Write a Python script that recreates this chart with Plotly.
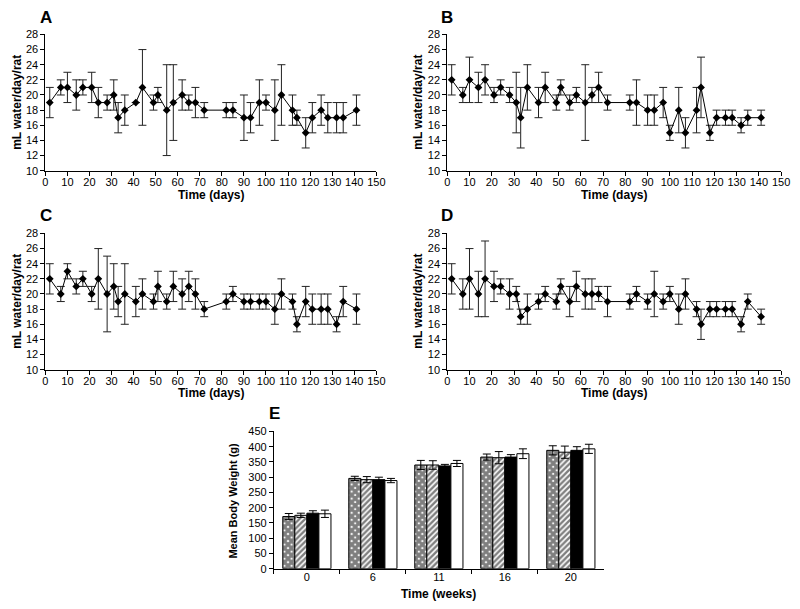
import plotly.graph_objects as go

# ---------------- data ----------------
days = [2, 7, 10, 14, 17, 21, 24, 28, 31, 33, 36, 41, 44, 49, 51, 55, 58, 62, 65, 68,
        72, 82, 85, 90, 93, 97, 100, 104, 107, 112, 114, 118, 121, 125, 128, 132, 135, 141]

A_mean = [19, 21, 21, 20, 21, 21, 19, 19, 20, 17, 18, 19, 21, 19, 20, 18, 19, 20, 19, 19,
          18, 18, 18, 17, 17, 19, 19, 18, 20, 18, 17, 15, 17, 18, 17, 17, 17, 18]
A_lo = [17, 20, 19, 18, 20, 19, 17, 18, 18, 15, 16, 19, 16, 18, 19, 12, 14, 18, 18, 17,
        17, 17, 17, 14, 15, 16, 18, 14, 16, 16, 16, 13, 15, 16, 15, 15, 15, 16]
A_hi = [21, 22, 23, 22, 22, 23, 21, 20, 22, 19, 20, 19, 26, 20, 21, 24, 24, 22, 20, 21,
        19, 19, 19, 20, 19, 22, 20, 22, 24, 20, 18, 17, 19, 20, 19, 19, 19, 20]

B_mean = [22, 20, 22, 21, 22, 20, 21, 20, 19, 17, 21, 19, 21, 19, 21, 19, 20, 19, 20, 21,
          19, 19, 19, 18, 18, 19, 15, 18, 15, 18, 21, 15, 17, 17, 17, 16, 17, 17]
B_lo = [20, 19, 19, 19, 20, 19, 20, 19, 15, 13, 18, 17, 19, 18, 20, 18, 19, 14, 19, 19,
        18, 18, 16, 16, 16, 17, 14, 15, 13, 15, 17, 14, 16, 16, 16, 15, 16, 16]
B_hi = [24, 21, 25, 23, 24, 21, 22, 21, 23, 21, 24, 21, 23, 20, 22, 20, 21, 24, 21, 23,
        20, 20, 22, 20, 20, 21, 16, 21, 17, 21, 25, 16, 18, 18, 18, 17, 18, 18]

C_mean = [22, 20, 23, 21, 22, 20, 22, 20, 21, 19, 20, 19, 20, 19, 21, 19, 21, 20, 21, 20,
          18, 19, 20, 19, 19, 19, 19, 18, 20, 19, 16, 19, 18, 18, 18, 16, 19, 18]
C_lo = [20, 19, 22, 20, 21, 19, 18, 15, 18, 17, 16, 17, 18, 18, 19, 18, 19, 18, 19, 18,
        17, 18, 19, 18, 18, 18, 18, 16, 18, 18, 15, 17, 16, 16, 16, 15, 17, 16]
C_hi = [24, 21, 24, 22, 23, 21, 26, 25, 24, 21, 24, 21, 22, 20, 23, 20, 23, 22, 23, 22,
        19, 20, 21, 20, 20, 20, 20, 20, 22, 20, 17, 21, 20, 20, 20, 17, 21, 20]

D_mean = [22, 20, 22, 20, 22, 21, 21, 20, 20, 17, 18, 19, 20, 19, 21, 19, 21, 20, 20, 20,
          19, 19, 20, 19, 20, 19, 20, 18, 20, 18, 16, 18, 18, 18, 18, 16, 19, 17]
D_lo = [20, 18, 18, 17, 17, 19, 20, 18, 19, 16, 16, 18, 19, 18, 20, 17, 19, 18, 18, 19,
        17, 18, 19, 18, 17, 18, 19, 16, 18, 17, 14, 17, 17, 17, 17, 15, 18, 16]
D_hi = [24, 22, 26, 23, 27, 23, 22, 22, 21, 18, 20, 20, 21, 20, 22, 21, 23, 22, 22, 21,
        21, 20, 21, 20, 23, 20, 21, 20, 22, 19, 18, 19, 19, 19, 19, 17, 20, 18]

weeks = ["0", "6", "11", "16", "20"]
E_cross = [171, 296, 340, 366, 388]
E_cross_err = [10, 7, 15, 10, 15]
E_hatch = [175, 292, 340, 364, 382]
E_hatch_err = [7, 10, 14, 20, 20]
E_black = [182, 292, 337, 366, 388]
E_black_err = [8, 8, 5, 8, 12]
E_white = [180, 289, 345, 377, 393]
E_white_err = [12, 7, 10, 16, 15]

# ---------------- layout helpers ----------------
W, H = 800, 609
def px(x):
    return x / W
def py(y):
    return 1 - y / H

FONT = "Liberation Sans, Arial, sans-serif"

fig = go.Figure()

panels = [
    ("A", A_mean, A_lo, A_hi, "x", "y"),
    ("B", B_mean, B_lo, B_hi, "x2", "y2"),
    ("C", C_mean, C_lo, C_hi, "x3", "y3"),
    ("D", D_mean, D_lo, D_hi, "x4", "y4"),
]
for name, m, lo, hi, xa, ya in panels:
    fig.add_trace(go.Scatter(
        x=days, y=m, xaxis=xa, yaxis=ya, mode="lines+markers",
        line=dict(color="black", width=1),
        marker=dict(symbol="diamond", size=6, color="black"),
        error_y=dict(type="data", symmetric=False,
                     array=[h - v for h, v in zip(hi, m)],
                     arrayminus=[v - l for v, l in zip(m, lo)],
                     color="#222222", thickness=1, width=4),
        showlegend=False, cliponaxis=False,
    ))

bar_specs = [
    (E_cross, E_cross_err, dict(color="white", pattern=dict(shape="x", fgcolor="black", bgcolor="white", size=5, solidity=0.85))),
    (E_hatch, E_hatch_err, dict(color="white", pattern=dict(shape="/", fgcolor="black", bgcolor="white", size=4, solidity=0.6))),
    (E_black, E_black_err, dict(color="black")),
    (E_white, E_white_err, dict(color="white")),
]
for vals, errs, mk in bar_specs:
    mk = dict(mk)
    mk["line"] = dict(color="black", width=1)
    fig.add_trace(go.Bar(
        x=weeks, y=vals, xaxis="x5", yaxis="y5", marker=mk,
        error_y=dict(type="data", array=errs, color="black", thickness=1, width=4),
        showlegend=False,
    ))

axis_common = dict(showline=True, linecolor="black", linewidth=1, ticks="outside",
                   ticklen=4, tickwidth=1, tickcolor="black", showgrid=False,
                   zeroline=False, tickfont=dict(family=FONT, size=11, color="black"))

xdom_left = [px(43), px(379)]
xdom_right = [px(451), px(790)]
ydom_top = [py(168), py(29)]
ydom_mid = [py(371), py(232)]

def xl(dom, anchor):
    return dict(axis_common, domain=dom, range=[0, 150], dtick=10, tick0=0, anchor=anchor,
                ticklabelstandoff=-3)
def yl(dom, anchor):
    return dict(axis_common, domain=dom, range=[10, 28], dtick=2, tick0=10, anchor=anchor)

fig.update_layout(
    width=W, height=H, margin=dict(l=0, r=0, t=0, b=0),
    paper_bgcolor="white", plot_bgcolor="white",
    barmode="group", bargap=0.27, bargroupgap=0,
    xaxis=xl(xdom_left, "y"), yaxis=yl(ydom_top, "x"),
    xaxis2=xl(xdom_right, "y2"), yaxis2=yl(ydom_top, "x2"),
    xaxis3=xl(xdom_left, "y3"), yaxis3=yl(ydom_mid, "x3"),
    xaxis4=xl(xdom_right, "y4"), yaxis4=yl(ydom_mid, "x4"),
    xaxis5=dict(axis_common, domain=[px(275), px(610)], anchor="y5", type="category",
                tickson="boundaries", categoryorder="array", categoryarray=weeks,
                ticklabelstandoff=-2),
    yaxis5=dict(axis_common, domain=[py(574), py(434)], anchor="x5", range=[0, 450], dtick=50),
)

ann = []
def text(x, y, s, size, bold=True, angle=0, xanchor="center"):
    ann.append(dict(x=px(x), y=py(y), xref="paper", yref="paper", text=f"<b>{s}</b>" if bold else s,
                    showarrow=False, textangle=angle, xanchor=xanchor, yanchor="middle",
                    font=dict(family=FONT, size=size, color="black")))

# panel letters
text(44, 12, "A", 17)
text(451, 12, "B", 17)
text(44, 214, "C", 17)
text(451, 214, "D", 17)
text(276, 416, "E", 17)
# x titles
text(211, 193, "Time (days)", 12)
text(620, 193, "Time (days)", 12)
text(211, 395, "Time (days)", 12)
text(620, 395, "Time (days)", 12)
text(442, 600, "Time (weeks)", 12)
# y titles
text(14, 98, "mL water/day/rat", 12, angle=-90)
text(421, 98, "mL water/day/rat", 12, angle=-90)
text(14, 301, "mL water/day/rat", 12, angle=-90)
text(421, 301, "mL water/day/rat", 12, angle=-90)
text(234, 504, "Mean Body Weight (g)", 11, angle=-90)
fig.update_layout(annotations=ann)

fig.write_html("out.html", config={"displayModeBar": False},
               post_script="document.body.style.margin='0px';document.body.style.overflow='hidden';")
